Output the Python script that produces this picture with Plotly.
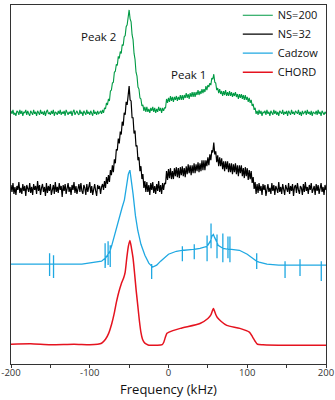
import numpy as np
import plotly.graph_objects as go

# ---------------- data (intensities relative to each trace's baseline, arbitrary units) ----------------
# Noisy spectra sampled every 1.25 kHz from -200 to 200 kHz
freq_noisy = [-200 + 1.25 * i for i in range(321)]

ns200 = [
    # -200 .. -85
    2, -1, 3, -2, 0, -3, 2, 1, -2, 3,
    -1, 2, -3, 1, 0, 3, -2, 2, -1, -3,
    2, 0, -2, 3, -1, 1, -3, 2, 0, -2,
    3, -1, 1, -2, 2, -3, 1, 3, -1, 0,
    -2, 2, -1, 3, -3, 1, 0, -2, 2, -1,
    3, -2, 1, -1, 2, -3, 3, 0, -2, 1,
    -1, 2, -3, 1, 3, -2, 0, 2, -1, -2,
    3, -1, 1, -3, 2, 0, -2, 3, -1, 1,
    -2, 2, 0, -3, 3, -1, 1, -2, 2, -1,
    0, 2, -1,
    # -83.75 .. 112.5
    3, 0, 5, 4, 10, 8, 14, 12, 22, 23, 30, 31, 41, 42, 49, 48, 57, 55, 62, 60,
    69, 68, 77, 78, 87, 89, 99, 104, 95, 92, 79, 74, 60, 54, 41, 37, 26, 24, 15, 14,
    7, 8, 2, 6, 1, 6, 1, 4, 0, 5, 2, 6, 1, 5, 0, 4, 1, 6, 2, 5,
    0, 5, 2, 5, 5, 14, 10, 15, 11, 17, 12, 16, 11, 16, 13, 17, 12, 16, 13, 18,
    13, 18, 13, 18, 15, 20, 15, 19, 14, 20, 16, 21, 16, 21, 16, 21, 18, 23, 18, 22,
    19, 24, 20, 24, 21, 27, 23, 28, 26, 30, 28, 35, 34, 39, 31, 30, 23, 25, 20, 24,
    19, 22, 17, 22, 18, 23, 17, 21, 17, 22, 17, 21, 16, 20, 17, 21, 16, 19, 14, 19,
    15, 19, 14, 18, 13, 18, 13, 16, 11, 15, 10, 13, 7, 9, 3, 5, -1, 2,
    # 113.75 .. 200
    -2, 3, -1, 2, -3, 1, 0, 2, -2, 3,
    -1, 1, -3, 2, 0, -2, 3, -1, 2, -2,
    1, -3, 2, 0, -1, 3, -2, 1, -1, 2,
    -3, 2, 0, -2, 3, -1, 1, -2, 2, 0,
    -1, 3, -2, 1, -3, 2, -1, 0, 2, -2,
    3, -1, 1, -2, 2, -3, 1, 0, -1, 2,
    -2, 3, -1, 1, -3, 2, 0, -2, 1, -1,
]

ns32 = [
    # -200 .. -85
    4, -3, 6, -5, 2, -6, 3, -1, 7, -4,
    1, -5, 5, -2, 3, -7, 4, 0, -3, 6,
    -4, 2, -6, 5, -1, 3, -5, 8, -2, 4,
    -6, 1, 5, -3, 2, -7, 6, -4, 3, -2,
    5, -6, 0, 4, -5, 7, -3, 2, -4, 6,
    -1, 3, -8, 4, -2, 5, -5, 1, 6, -3,
    2, -6, 4, -1, 7, -4, 3, -5, 0, 5,
    -3, 6, -2, -5, 4, 1, -6, 5, -3, 2,
    7, -4, 3, -6, 1, 5, -2, -7, 4, 0,
    3, -5, 2,
    # -83.75 .. 112.5
    5, -1, 8, 1, 12, 5, 14, 7, 19, 14, 24, 17, 30, 26, 40, 39, 51, 46, 58, 55,
    68, 64, 77, 75, 88, 85, 99, 104, 90, 89, 72, 72, 56, 59, 43, 44, 29, 32, 18, 23,
    10, 15, 1, 8, -3, 7, -3, 4, -6, 6, -1, 7, -4, 3, -5, 5, -2, 8, -3, 4,
    -5, 6, -1, 6, 5, 18, 9, 20, 11, 21, 10, 18, 10, 21, 13, 22, 12, 21, 11, 22,
    14, 23, 13, 21, 12, 23, 15, 25, 16, 24, 14, 24, 16, 26, 16, 25, 18, 27, 17, 26,
    18, 29, 19, 29, 19, 29, 23, 32, 24, 35, 29, 39, 37, 47, 35, 38, 27, 34, 23, 32,
    23, 31, 20, 28, 18, 28, 20, 28, 17, 26, 17, 26, 15, 25, 17, 26, 15, 24, 13, 24,
    16, 24, 13, 21, 11, 22, 13, 21, 9, 19, 10, 18, 6, 12, 0, 7, -5, 5,
    # 113.75 .. 200
    -4, 6, -2, 3, -6, 5, -1, 4, -7, 2,
    5, -3, 1, -5, 6, -2, 4, -6, 3, 0,
    -4, 7, -3, 2, -5, 5, -1, -6, 4, 1,
    -3, 6, -5, 3, -2, 5, -7, 2, 4, -4,
    6, -1, -5, 3, 1, -6, 5, -3, 7, -2,
    2, -5, 4, -1, 6, -4, 0, 3, -6, 5,
    -2, 4, -5, 1, 6, -3, 2, -6, 4, -1,
]

# Cadzow reconstruction (smooth curve + spurious spikes)
cadzow_freq = [-200, -150, -110, -100, -90, -85, -80, -75, -72, -68, -65, -62, -59, -56, -53,
               -51, -49, -47, -45, -42, -39, -35, -30, -25, -20, -15, -10, -5, 0, 10, 20,
               30, 40, 48, 53, 55, 57, 58.5, 60, 63, 68, 80, 90, 100, 105, 110, 115, 125, 140, 200]
cadzow_int = [1, 1, 1, 2, 3, 4, 7, 13, 20, 32, 42, 50, 58, 66, 80,
              92, 96, 85, 72, 50, 35, 21, 10, 2, -2, 0, 4, 8, 11, 14, 15,
              16, 17, 19, 24, 29, 31, 28, 25, 20, 17, 16, 15, 11, 8, 5, 3, 1, 0, 0]
spike_freq = [-151, -146, -80.5, -76.7, -74, -21.4, 17.6, 32.7, 49, 54, 61.6, 69, 75.5, 78, 112, 148, 167, 194]
spike_mid = [1, 1, 7, 11, 15, -1, 15, 16, 19, 26, 23, 17, 16, 16, 4, 0, 0, 0]
spike_top = [12, 10, 22, 24, 20, 1, 19, 21, 30, 42, 31, 32, 29, 29, 12, 4, 6, 4]
spike_bot = [-11, -13, -3, 0, -2, -14, 4, 6, 4, 17, 7, 3, 7, 3, -4, -13, -11, -16]

# CHORD reconstruction
chord_freq = [-200, -175, -150, -120, -100, -90, -85, -80, -76, -72, -69, -66, -63, -60, -57,
              -55, -53, -51, -49, -47, -45, -43, -41, -39, -37, -35, -33, -31, -28, -25,
              -15, -8, -6, -4, -2, 0, 15, 40, 50, 54, 57, 60, 62, 67, 74, 90.6, 103, 107,
              110, 113, 120, 150, 200]
chord_int = [1, 1.5, 0.5, 1, 0.5, 1, 2, 6, 12, 22, 32, 44, 54, 62, 68,
             74, 88, 100, 106, 98, 88, 72, 55, 40, 25, 13, 6, 3, 1, 0,
             0, 0.5, 3, 8, 12, 13, 17, 22, 27, 31, 37, 31, 28, 24, 20, 17, 13, 8,
             4, 1, 0.5, 0, 0]

tick_vals = [-200, -150, -100, -50, 0, 50, 100, 150, 200]
tick_text = ["-200", "", "-100", "", "0", "", "100", "", "200"]

assert len(ns200) == 321, len(ns200)
assert len(ns32) == 321, len(ns32)

# ---------------- layout / styling ----------------
OFF_NS200, OFF_NS32, OFF_CAD, OFF_CHORD = 254, 177, 100, 19

# merge spikes into Cadzow curve
pts = [(f, v) for f, v in zip(cadzow_freq, cadzow_int)]
for f, m, t, b in zip(spike_freq, spike_mid, spike_top, spike_bot):
    pts.append((f, m, t, b))
pts.sort(key=lambda p: p[0])
cx, cy = [], []
for p in pts:
    if len(p) == 2:
        cx.append(p[0]); cy.append(p[1])
    else:
        f, m, t, b = p
        cx += [f, f, f, f]; cy += [m, t, b, m]

FONT = "Open Sans"
fig = go.Figure()
fig.add_trace(go.Scatter(x=freq_noisy, y=np.array(ns200) + OFF_NS200, mode="lines", name="NS=200",
                         line=dict(color="#009A44", width=1.1)))
fig.add_trace(go.Scatter(x=freq_noisy, y=np.array(ns32) + OFF_NS32, mode="lines", name="NS=32",
                         line=dict(color="#000000", width=1.2)))
fig.add_trace(go.Scatter(x=cx, y=np.array(cy) + OFF_CAD, mode="lines", name="Cadzow",
                         line=dict(color="#1FA8E2", width=1.3)))
fig.add_trace(go.Scatter(x=chord_freq, y=np.array(chord_int) + OFF_CHORD, mode="lines", name="CHORD",
                         line=dict(color="#E5131F", width=1.5, shape="spline", smoothing=0.6)))

fig.add_annotation(x=-89, y=331, text="Peak 2", showarrow=False, font=dict(size=11.5, color="#111"))
fig.add_annotation(x=25, y=293, text="Peak 1", showarrow=False, font=dict(size=11.5, color="#111"))

fig.update_layout(
    width=335, height=400,
    margin=dict(l=9, r=8, t=1, b=36),
    paper_bgcolor="white", plot_bgcolor="white",
    font=dict(family=FONT, color="#111"),
    showlegend=True,
    legend=dict(x=0.72, y=1.012, xanchor="left", yanchor="top", bgcolor="rgba(0,0,0,0)",
                font=dict(size=11, family=FONT), tracegroupgap=0, itemwidth=30),
    xaxis=dict(range=[-200, 200], tickvals=tick_vals, ticktext=tick_text, ticks="outside",
               ticklen=3, tickcolor="#333", showline=True, linecolor="#333", mirror=True,
               showgrid=False, zeroline=False, tickfont=dict(size=9.5, color="#333"),
               ticklabeloverflow="allow", ticklabelstandoff=-3,
               title=dict(text="Frequency (kHz)", font=dict(size=13), standoff=6)),
    yaxis=dict(range=[0, 363], showticklabels=False, ticks="", showline=True, linecolor="#333",
               mirror=True, showgrid=False, zeroline=False),
)

fig.write_html("out.html", config={"displayModeBar": False},
               post_script="document.body.style.margin='0';document.body.style.overflow='hidden';")
